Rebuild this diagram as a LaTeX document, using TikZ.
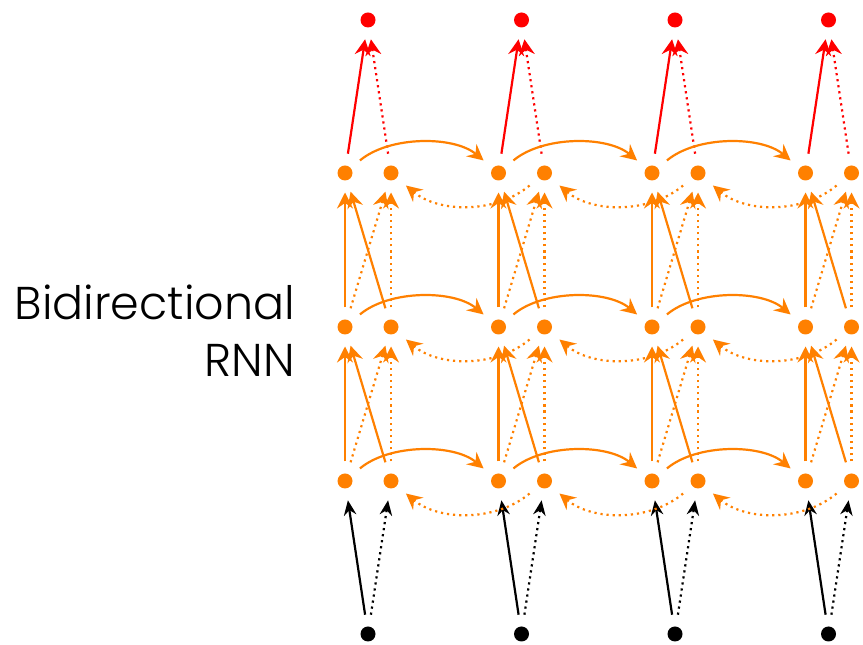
\documentclass[tikz,border=0pt]{standalone}
\usepackage{fontspec}
\setmainfont{Poppins Light}
\usetikzlibrary{arrows.meta}
\definecolor{rnnorange}{RGB}{255,128,0}
\definecolor{rnnred}{RGB}{255,0,0}
\begin{document}
\begin{tikzpicture}[x=1pt,y=1pt,
  dot/.style={circle,inner sep=0pt,minimum size=15pt,outer sep=12pt,draw=none},
  bigtip/.style={-{Stealth[length=16pt,width=16pt,inset=5.5pt]}},
  smalltip/.style={-{Stealth[length=15pt,width=12.5pt,inset=5pt]}},
  solidline/.style={line width=2.2pt},
  dotline/.style={line width=2.2pt,dash pattern=on 2.2pt off 3.9pt},
  osolid/.style={solidline,bigtip,draw=rnnorange,color=rnnorange},
  odot/.style={dotline,bigtip,draw=rnnorange,color=rnnorange},
  rsolid/.style={solidline,bigtip,draw=rnnred,color=rnnred},
  rdot/.style={dotline,bigtip,draw=rnnred,color=rnnred},
  ksolid/.style={solidline,smalltip,draw=black},
  kdot/.style={dotline,smalltip,draw=black},
  lbl/.style={anchor=base east,font=\fontsize{46}{50}\selectfont,inner sep=0pt}
]
\useasboundingbox (0,0) rectangle (863,645);
\foreach \c in {0,1,2,3}{
  \pgfmathsetmacro{\lx}{345+153.5*\c}
  \pgfmathsetmacro{\rx}{\lx+46}
  \pgfmathsetmacro{\mx}{\lx+23}
  \node[dot,fill=rnnred] (T\c) at (\mx,625) {};
  \node[dot,fill=black] (B\c) at (\mx,11) {};
  \foreach \r/\yy in {1/472,2/318,3/164}{
    \node[dot,fill=rnnorange] (L\c\r) at (\lx,\yy) {};
    \node[dot,fill=rnnorange] (R\c\r) at (\rx,\yy) {};
  }
}
\foreach \c in {0,1,2,3}{
  \draw[rsolid] (L\c1) -- (T\c);
  \draw[rdot] (R\c1) -- (T\c);
  \draw[ksolid] (B\c) -- (L\c3);
  \draw[kdot] (B\c) -- (R\c3);
  \foreach \lo/\up in {2/1,3/2}{
    \draw[osolid] (L\c\lo) -- (L\c\up);
    \draw[osolid] (R\c\lo) -- (L\c\up);
    \draw[odot] (L\c\lo) -- (R\c\up);
    \draw[odot] (R\c\lo) -- (R\c\up);
  }
}
\foreach \c/\n in {0/1,1/2,2/3}{
  \foreach \r in {1,2,3}{
    \draw[osolid] (L\c\r) to[out=40,in=140,looseness=0.8] (L\n\r);
    \draw[odot] (R\n\r) to[out=220,in=-40,looseness=0.9] (R\c\r);
  }
}
\node[lbl] (t1) at (295,325) {Bidirectional};
\node[lbl] (t2) at (295,268) {RNN};
\end{tikzpicture}
\end{document}
